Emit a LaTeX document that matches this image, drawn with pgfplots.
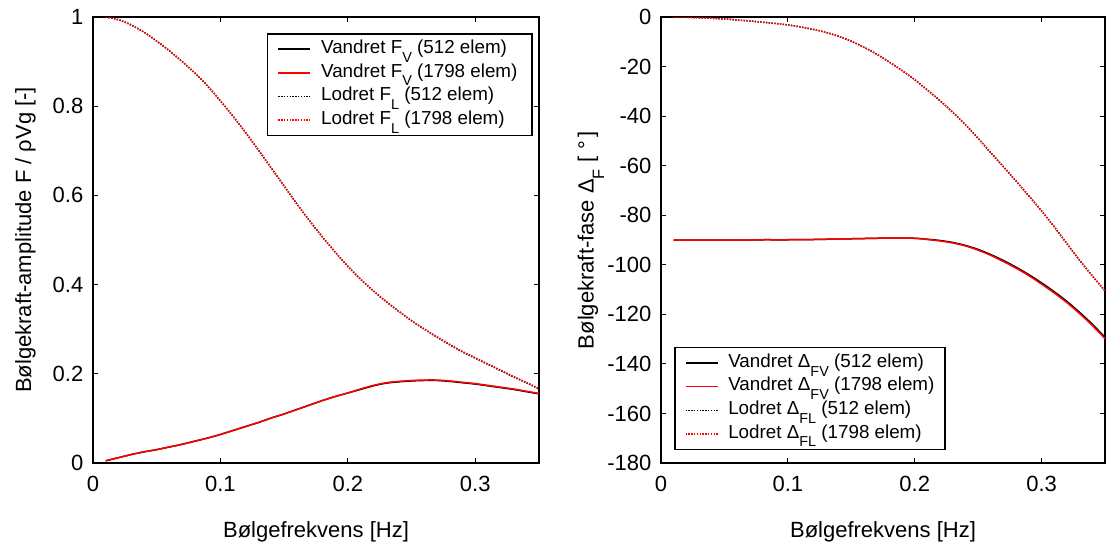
\documentclass[border=0pt]{standalone}
\usepackage{fontspec}
\setmainfont{Liberation Sans}
\usepackage{pgfplots}
\pgfplotsset{compat=1.18}
\newcommand{\sub}[1]{\raisebox{-5.3pt}{\fontsize{8.2}{8.2}\selectfont #1}}
\newcommand{\lsub}[1]{\raisebox{-4.4pt}{\fontsize{7.2}{7.2}\selectfont #1}}
\pgfplotstableread{
x   fl     fv
0.01 1.000 0.005
0.02 0.994 0.012
0.03 0.982 0.019
0.04 0.966 0.025
0.05 0.946 0.030
0.06 0.924 0.036
0.07 0.900 0.042
0.08 0.874 0.049
0.09 0.845 0.056
0.10 0.812 0.064
0.11 0.777 0.073
0.12 0.740 0.082
0.13 0.701 0.091
0.14 0.661 0.101
0.15 0.621 0.110
0.16 0.581 0.120
0.17 0.543 0.130
0.18 0.507 0.140
0.19 0.473 0.149
0.20 0.441 0.157
0.21 0.412 0.165
0.22 0.386 0.173
0.23 0.362 0.179
0.24 0.340 0.182
0.25 0.319 0.184
0.26 0.300 0.185
0.27 0.282 0.185
0.28 0.265 0.183
0.29 0.249 0.180
0.30 0.235 0.177
0.31 0.221 0.173
0.32 0.207 0.169
0.33 0.193 0.165
0.34 0.180 0.160
0.35 0.166 0.155
}\ampA
\pgfplotstableread{
x   fl     fv
0.01 1.000 0.005
0.02 0.994 0.012
0.03 0.982 0.019
0.04 0.966 0.025
0.05 0.946 0.030
0.06 0.924 0.036
0.07 0.900 0.042
0.08 0.874 0.049
0.09 0.845 0.056
0.10 0.812 0.064
0.11 0.777 0.073
0.12 0.740 0.082
0.13 0.701 0.091
0.14 0.661 0.101
0.15 0.621 0.110
0.16 0.581 0.120
0.17 0.543 0.130
0.18 0.507 0.140
0.19 0.473 0.149
0.20 0.441 0.157
0.21 0.412 0.166
0.22 0.386 0.174
0.23 0.362 0.180
0.24 0.340 0.183
0.25 0.319 0.185
0.26 0.300 0.186
0.27 0.283 0.186
0.28 0.266 0.184
0.29 0.250 0.181
0.30 0.236 0.178
0.31 0.222 0.174
0.32 0.208 0.170
0.33 0.194 0.166
0.34 0.181 0.161
0.35 0.167 0.156
}\ampB
\pgfplotstableread{
x    fl      fv
0.01 0.0    -90.0
0.02 -0.1   -90.0
0.03 -0.3   -90.0
0.04 -0.5   -90.0
0.05 -0.8   -90.0
0.06 -1.2   -90.0
0.07 -1.6   -90.0
0.08 -2.1   -89.9
0.09 -2.6   -89.9
0.10 -3.2   -89.9
0.11 -4.0   -89.8
0.12 -5.0   -89.8
0.13 -6.2   -89.7
0.14 -7.8   -89.6
0.15 -9.8   -89.5
0.16 -12.2  -89.4
0.17 -15.0  -89.3
0.18 -18.2  -89.2
0.19 -21.6  -89.2
0.20 -25.3  -89.3
0.21 -29.5  -89.7
0.22 -33.8  -90.2
0.23 -38.5  -91.0
0.24 -43.5  -92.2
0.25 -49.0  -93.8
0.26 -54.8  -95.9
0.27 -60.5  -98.3
0.28 -66.3  -101.0
0.29 -72.2  -104.0
0.30 -78.3  -107.3
0.31 -84.7  -110.9
0.32 -91.5  -114.8
0.33 -98.2  -119.2
0.34 -104.5 -124.0
0.35 -110.5 -129.3
}\phaseA
\pgfplotstableread{
x    fl      fv
0.01 0.0    -90.0
0.02 -0.1   -90.0
0.03 -0.3   -90.0
0.04 -0.5   -90.0
0.05 -0.8   -90.0
0.06 -1.2   -90.0
0.07 -1.6   -90.0
0.08 -2.1   -89.9
0.09 -2.6   -89.9
0.10 -3.2   -89.9
0.11 -4.0   -89.8
0.12 -5.0   -89.8
0.13 -6.2   -89.7
0.14 -7.8   -89.6
0.15 -9.8   -89.5
0.16 -12.2  -89.4
0.17 -15.0  -89.3
0.18 -18.2  -89.2
0.19 -21.6  -89.2
0.20 -25.3  -89.3
0.21 -29.5  -89.8
0.22 -33.8  -90.4
0.23 -38.5  -91.2
0.24 -43.5  -92.4
0.25 -49.0  -94.1
0.26 -54.8  -96.2
0.27 -60.5  -98.7
0.28 -66.3  -101.4
0.29 -72.2  -104.4
0.30 -78.3  -107.8
0.31 -84.7  -111.4
0.32 -91.5  -115.3
0.33 -98.2  -119.7
0.34 -104.5 -124.5
0.35 -110.5 -129.8
}\phaseB
\pgfplotsset{
  myaxis/.style={
    scale only axis,
    height=223pt,
    xmin=0, xmax=0.35,
    xtick={0,0.1,0.2,0.3},
    tick align=inside,
    tick pos=both,
    major tick length=2.6pt,
    axis line style={line width=0.75pt},
    every tick/.style={black, line width=0.5pt},
    /pgf/number format/assume math mode=true,
    xticklabel style={yshift=-3.2pt},
    yticklabel style={xshift=-1.3pt},
    xlabel style={at={(axis description cs:0.5,-0.166)}, anchor=base},
    legend cell align=left,
    legend style={draw=black, line width=0.75pt, inner xsep=5pt, inner ysep=1.8pt, row sep=0pt,
      /tikz/every odd column/.append style={column sep=4.6pt},
      nodes={text height=7.6pt, text depth=3.4pt, inner sep=0.4pt, font=\fontsize{9.4}{12}\selectfont}},
    legend image code/.code={\draw[#1, line width=0.75pt] (0pt,0pt) -- (16pt,0pt);},
    clip=true,
  },
  sol/.style={line width=0.75pt, smooth},
  dot/.style={line width=0.75pt, smooth, dash pattern=on 0.7pt off 0.7pt},
}
\begin{document}
\begin{tikzpicture}[font=\fontsize{11}{13}\selectfont]
\useasboundingbox (-46.5pt,-42pt) rectangle (507pt,231.5pt);
\begin{axis}[myaxis,
  at={(0pt,0pt)}, anchor=south west,
  width=223pt,
  ymin=0, ymax=1,
  ytick={0,0.2,0.4,0.6,0.8,1},
  xlabel={Bølgefrekvens [Hz]},
  ylabel={Bølgekraft-amplitude F / ρVg [-]},
  ylabel style={at={(axis description cs:-0.139,0.5)}, anchor=base, rotate=0},
  legend style={at={(0.9865,0.964)}, anchor=north east},
]
\addplot[sol, black] table[x=x, y=fv] {\ampA};
\addlegendentry{Vandret F\lsub{V} (512 elem)}
\addplot[sol, red] table[x=x, y=fv] {\ampB};
\addlegendentry{Vandret F\lsub{V} (1798 elem)\hspace*{2pt}}
\addplot[dot, black] table[x=x, y=fl] {\ampA};
\addlegendentry{Lodret F\lsub{L} (512 elem)}
\addplot[dot, red] table[x=x, y=fl] {\ampB};
\addlegendentry{Lodret F\lsub{L} (1798 elem)}
\end{axis}
\begin{axis}[myaxis,
  at={(284pt,0pt)}, anchor=south west,
  width=222pt,
  ymin=-180, ymax=0,
  ytick={-180,-160,...,0},
  xlabel={Bølgefrekvens [Hz]},
  ylabel={Bølgekraft-fase Δ\sub{F} [\,\,°\,]},
  ylabel style={at={(axis description cs:-0.152,0.5)}, anchor=base, rotate=0},
  legend style={at={(0.0293,0.0291)}, anchor=south west},
]
\addplot[sol, black] table[x=x, y=fv] {\phaseA};
\addlegendentry{Vandret Δ\lsub{FV} (512 elem)}
\addplot[sol, red] table[x=x, y=fv] {\phaseB};
\addlegendentry{Vandret Δ\lsub{FV} (1798 elem)}
\addplot[dot, black] table[x=x, y=fl] {\phaseA};
\addlegendentry{Lodret Δ\lsub{FL} (512 elem)}
\addplot[dot, red] table[x=x, y=fl] {\phaseB};
\addlegendentry{Lodret Δ\lsub{FL} (1798 elem)}
\end{axis}
\end{tikzpicture}
\end{document}
